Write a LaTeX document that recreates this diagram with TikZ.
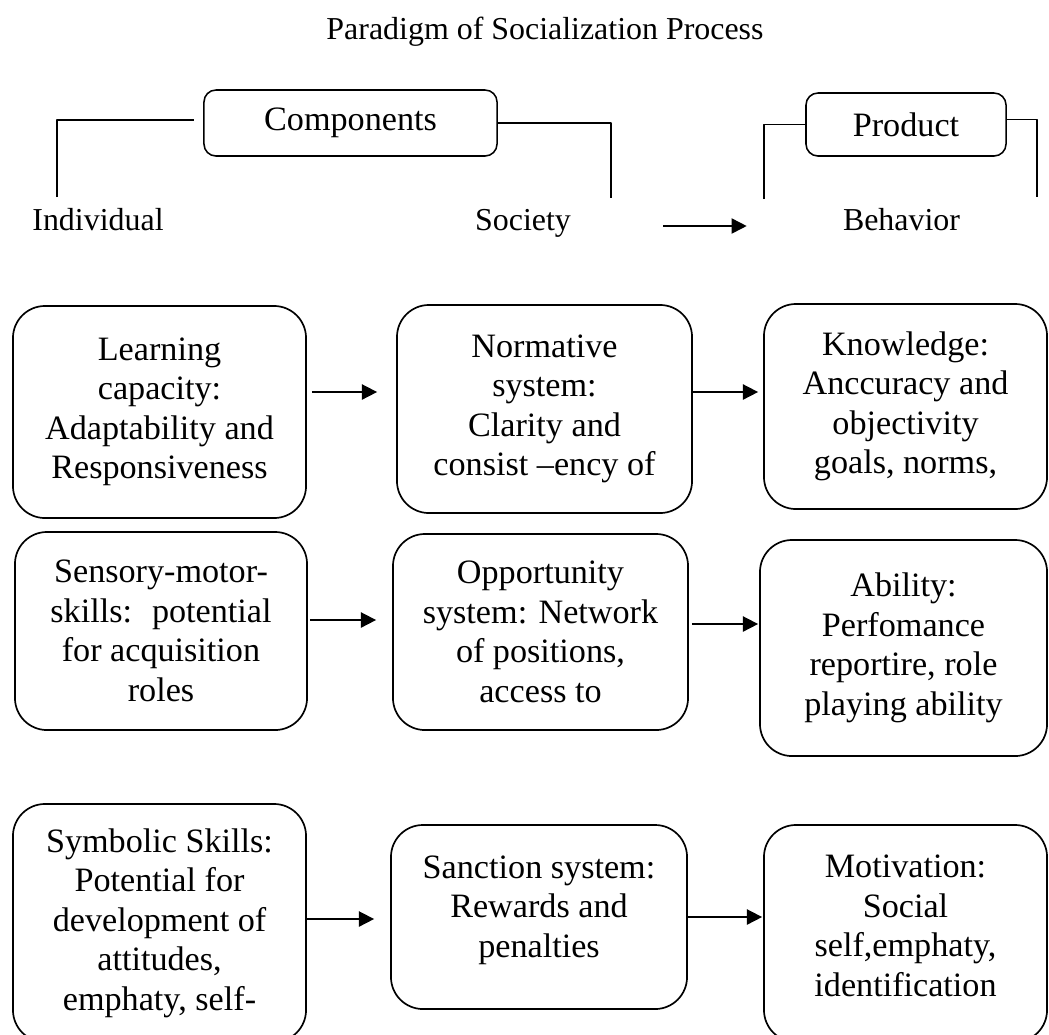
\documentclass[tikz,border=0pt]{standalone}
\usepackage{fontspec}
\setmainfont{Liberation Serif}
\usetikzlibrary{arrows.meta,positioning,calc}

\begin{document}
\begin{tikzpicture}[x=0.025cm,y=-0.025cm,>={Triangle[length=3.8mm,width=3.8mm]},line join=round]
	\tikzstyle{box} = [draw,rectangle,rounded corners=0.8cm,line width=1.2pt,align=center,inner sep=0pt,font=\fontsize{24.3}{28.1}\selectfont]
	\tikzstyle{headbox} = [draw,rectangle,rounded corners=0.3cm,line width=1.1pt,inner sep=0pt,font=\fontsize{24.3}{28.1}\selectfont]
	\tikzstyle{side} = [inner sep=0pt,font=\fontsize{22.7}{26}\selectfont]
	\tikzset{
		bracket/.style={line width=0.9pt},
		flow/.style={->,line width=1.2pt}
	}
	\useasboundingbox (0,0) rectangle (1049,1034);

	\node[side,anchor=base] (title) at (545,39) {Paradigm of Socialization Process};

	% header
	\node[headbox,minimum width=7.325cm,minimum height=1.65cm] (comp) at (350.5,123) {Components};
	\node[headbox,minimum width=5cm,minimum height=1.575cm] (prod) at (906,124.5) {Product};
	\node[side,anchor=base] (indiv) at (98,230) {Individual};
	\node[side,anchor=base] (soc) at (523,230) {Society};
	\node[side,anchor=base] (behav) at (901.5,230) {Behavior};

	\draw[bracket] (57,197) |- ([xshift=-0.225cm,yshift=0.075cm]comp.west);
	\draw[bracket] (comp.east) -| (611,198);
	\draw[bracket] (764,199) |- (prod.west);
	\draw[bracket] ([yshift=0.125cm]prod.east) -| (1037,197);
	\draw[flow,shorten <=2.3cm,shorten >=2.4cm] ([yshift=0.1cm]soc.base east) -- ([yshift=0.1cm]behav.base west);

	% individual
	\node[box,minimum width=7.325cm,minimum height=5.3cm] (I1) at (159.5,412) {Learning\\ capacity:\\ Adaptability and\\ Responsiveness};
	\node[box,minimum width=7.3cm,minimum height=4.95cm] (I2) at (161,631) {Sensory-motor-\\ skills:~ potential\\ for acquisition\\ roles};
	\node[box,minimum width=7.325cm,minimum height=5.95cm] (I3) at (159.5,923) {Symbolic Skills:\\ Potential for\\ development of\\ attitudes,\\ emphaty, self-};

	% society
	\node[box,minimum width=7.375cm,minimum height=5.2cm] (S1) at (544.5,409) {Normative\\ system:\\ Clarity and\\ consist –ency of};
	\node[box,minimum width=7.375cm,minimum height=4.9cm] (S2) at (540.5,632) {Opportunity\\ system: Network\\ of positions,\\ access to};
	\node[box,minimum width=7.4cm,minimum height=4.6cm] (S3) at (539,917) {Sanction system:\\ Rewards and\\ penalties\\[-0.45cm] \mbox{}};

	% behavior
	\node[box,minimum width=7.075cm,minimum height=5.125cm] (B1) at (905.5,406.5) {Knowledge:\\ Anccuracy and\\ objectivity\\ goals, norms,};
	\node[box,minimum width=7.175cm,minimum height=5.4cm] (B2) at (903.5,648) {Ability:\\ Perfomance\\ reportire, role\\ playing ability};
	\node[box,minimum width=7.075cm,minimum height=5.425cm] (B3) at (905.5,933.5) {Motivation:\\ Social\\ self,emphaty,\\ identification\\[-0.6cm] \mbox{}};

	\draw[flow,shorten <=0.125cm,shorten >=0.475cm] (I1.east |- 0,392) -- (S1.west |- 0,392);
	\draw[flow,shorten >=0.125cm] (S1.east |- 0,392) -- (B1.west |- 0,392);
	\draw[flow,shorten <=0.05cm,shorten >=0.4cm] (I2.east |- 0,620) -- (S2.west |- 0,620);
	\draw[flow,shorten <=0.075cm,shorten >=0.025cm] (S2.east |- 0,624) -- (B2.west |- 0,624);
	\draw[flow,shorten >=0.4cm] (I3.east |- 0,919) -- (S3.west |- 0,919);
	\draw[flow,shorten >=0.025cm] (S3.east |- 0,917) -- (B3.west |- 0,917);
\end{tikzpicture}
\end{document}
